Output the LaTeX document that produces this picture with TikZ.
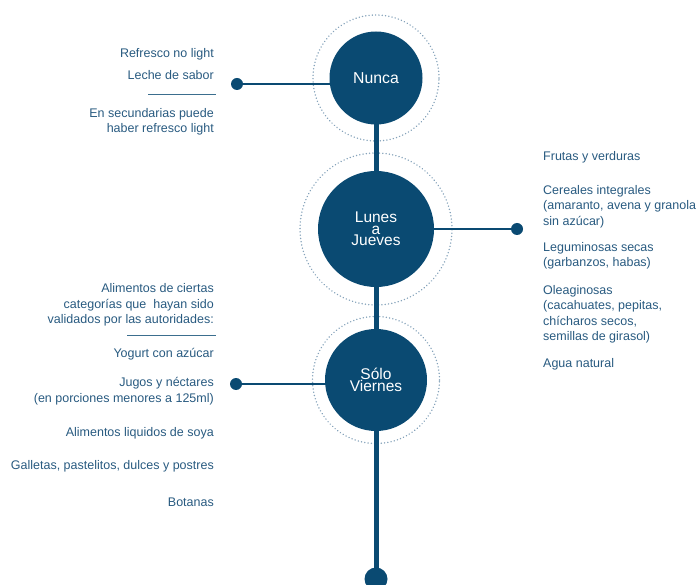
\documentclass[tikz,border=0pt]{standalone}
\usepackage{fontspec}
\setmainfont{Liberation Sans}
\definecolor{navy}{HTML}{0A4A72}
\definecolor{txt}{HTML}{285A80}
\definecolor{dots}{HTML}{86A3BB}
\begin{document}
\begin{tikzpicture}[x=1pt,y=-1pt,
  big/.style={circle,fill=navy,text=white,inner sep=0pt,align=center,font=\fontsize{15.8}{12}\selectfont},
  halo/.style={circle,draw=dots,line width=1.6pt,dash pattern=on 0.01pt off 3.3pt,line cap=round,inner sep=0pt},
  spine/.style={draw=navy,line width=5pt},
  link/.style={draw=navy,line width=2pt},
  sep/.style={draw=navy!80,line width=0.8pt},
  tip/.style={circle,fill=navy,inner sep=0pt,minimum size=12pt},
  lt/.style={anchor=east,align=right,text=txt,inner sep=0pt,font=\fontsize{12.5}{15.5}\selectfont},
  rt/.style={anchor=west,align=left,text=txt,inner sep=0pt,font=\fontsize{12.5}{15.5}\selectfont}]
\useasboundingbox (0,0) rectangle (699,585);
% halos
\node[halo,minimum size=126pt] (h1) at (376,78) {};
\node[halo,minimum size=152pt] (h2) at (376,229) {};
\node[halo,minimum size=127pt] (h3) at (376,380) {};
% spine
\node[tip,minimum size=23pt] (end) at (376,579) {};
\coordinate (top) at (376,78);
\draw[spine] (top) -- (end.center);
% connectors
\node[tip] (d1) at (237,84) {};
\coordinate (c1) at (376,84);
\draw[link] (d1.center) -- (c1);
\node[tip] (d2) at (517,229) {};
\coordinate (c2) at (376,229);
\draw[link] (c2) -- (d2.center);
\node[tip] (d3) at (236,384) {};
\coordinate (c3) at (376,384);
\draw[link] (d3.center) -- (c3);
% main circles
\node[big,minimum size=93pt] (nunca) at (376,78) {Nunca};
\node[big,minimum size=116pt,font=\fontsize{15.5}{11.5}\selectfont] (lunes) at (376,229) {Lunes\\a\\Jueves};
\node[big,minimum size=102pt,font=\fontsize{15.5}{12}\selectfont] (viernes) at (376,380) {Sólo\\Viernes};
% separators
\coordinate (s1a) at (148,94); \coordinate (s1b) at (216,94);
\draw[sep] (s1a) -- (s1b);
\coordinate (s3a) at (127,335); \coordinate (s3b) at (216,335);
\draw[sep] (s3a) -- (s3b);
% left texts
\node[lt] (t1) at (214,54.5) {Refresco no light};
\node[lt] (t2) at (214,75.5) {Leche de sabor};
\node[lt] (t3) at (214,122) {En secundarias puede\\haber refresco light};
\node[lt] (t4) at (214,305) {Alimentos de ciertas\\categorías que\ \ hayan sido\\validados por las autoridades:};
\node[lt] (t5) at (214,354.5) {Yogurt con azúcar};
\node[lt] (t6) at (214,391) {Jugos y néctares\ \\(en porciones menores a 125ml)};
\node[lt] (t7) at (214,433.5) {Alimentos liquidos de soya};
\node[lt] (t8) at (214,466.5) {Galletas, pastelitos, dulces y postres};
\node[lt] (t9) at (214,502.5) {Botanas};
% right texts
\node[rt] (r1) at (543,157.5) {Frutas y verduras};
\node[rt] (r2) at (543,206.5) {Cereales integrales\\(amaranto, avena y granola\\sin azúcar)};
\node[rt] (r3) at (543,256) {Leguminosas secas\\(garbanzos, habas)};
\node[rt] (r4) at (543,314.5) {Oleaginosas\\(cacahuates, pepitas,\\chícharos secos,\\semillas de girasol)};
\node[rt] (r5) at (543,364.5) {Agua natural};
\end{tikzpicture}
\end{document}
